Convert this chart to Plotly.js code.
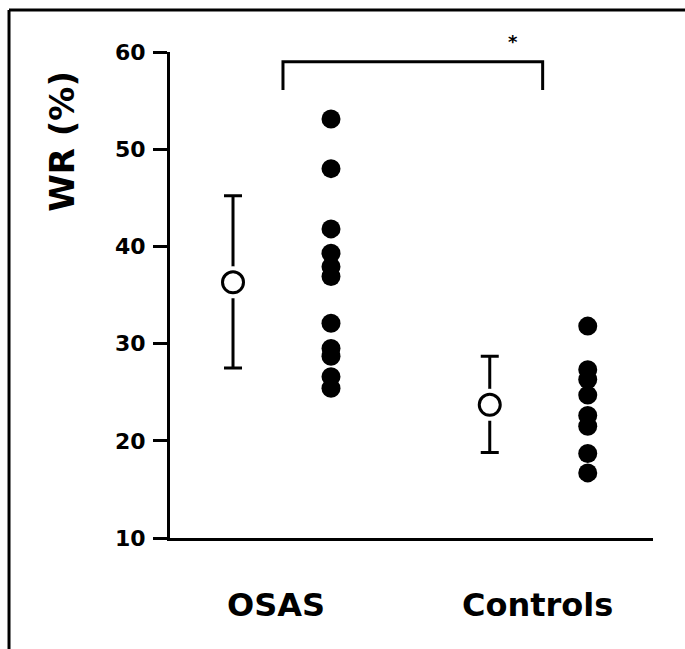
<!DOCTYPE html>
<html>
<head>
<meta charset="utf-8">
<script src="https://cdn.plot.ly/plotly-3.0.1.min.js"></script>
<style>html,body{margin:0;padding:0;background:#fff;}#chart{width:685px;height:649px;}</style>
</head>
<body>
<div id="chart"></div>
<script>
// ---- data ----
const groups = ["OSAS", "Controls"];
const groupMeanX = [1, 3.62];
const groupDotX = [2, 4.62];
const osasValues = [53.1, 48.0, 41.8, 39.3, 37.9, 36.9, 32.1, 29.5, 28.7, 26.6, 25.4];
const controlValues = [31.8, 27.3, 26.3, 24.7, 22.6, 21.5, 18.7, 16.7];
const meanValues = [36.3, 23.7];
const errPlus = [8.9, 5.0];
const errMinus = [8.8, 4.9];
const yTicks = [10, 20, 30, 40, 50, 60];
const bracketX = [1.51, 1.51, 4.16, 4.16];
const bracketY = [56.1, 59.0, 59.0, 56.1];
const sigMark = "*";
const labelX = [1.44, 4.11];
const yTitle = "WR (%)";

const FONT = "DejaVu Sans";
const BLACK = "#000";

const traces = [];
// error bars
traces.push({
  type: "scatter", mode: "markers", x: groupMeanX, y: meanValues,
  marker: {size: 1, color: "rgba(0,0,0,0)"},
  error_y: {type: "data", symmetric: false, array: errPlus, arrayminus: errMinus,
            color: BLACK, thickness: 3, width: 9},
  hoverinfo: "skip", showlegend: false, cliponaxis: false
});
// white gap around means
traces.push({
  type: "scatter", mode: "markers", x: groupMeanX, y: meanValues,
  marker: {size: 32, color: "#fff", line: {width: 0}},
  hoverinfo: "skip", showlegend: false, cliponaxis: false
});
// open circles
traces.push({
  type: "scatter", mode: "markers", x: groupMeanX, y: meanValues,
  marker: {size: 21, color: "#fff", symbol: "circle", line: {width: 3, color: BLACK}},
  showlegend: false, cliponaxis: false
});
// individual values
traces.push({
  type: "scatter", mode: "markers",
  x: osasValues.map(() => groupDotX[0]), y: osasValues,
  marker: {size: 19, color: BLACK}, showlegend: false, cliponaxis: false
});
traces.push({
  type: "scatter", mode: "markers",
  x: controlValues.map(() => groupDotX[1]), y: controlValues,
  marker: {size: 19, color: BLACK}, showlegend: false, cliponaxis: false
});
// significance bracket
traces.push({
  type: "scatter", mode: "lines", x: bracketX, y: bracketY,
  line: {color: BLACK, width: 3}, hoverinfo: "skip", showlegend: false, cliponaxis: false
});

const annotations = [];
groups.forEach((g, i) => {
  annotations.push({
    x: labelX[i], xref: "x", y: -0.138, yref: "paper", text: g, showarrow: false,
    font: {family: FONT, size: 32, color: BLACK, weight: "bold"}, xanchor: "center", yanchor: "middle"
  });
});
annotations.push({
  x: -0.224, xref: "paper", y: 50.85, yref: "y", text: yTitle, textangle: -90, showarrow: false,
  font: {family: FONT, size: 34, color: BLACK, weight: "bold"}, xanchor: "center", yanchor: "middle"
});
annotations.push({
  x: 0.710, xref: "paper", y: 1.022, yref: "paper", text: sigMark, showarrow: false,
  font: {family: FONT, size: 18, color: BLACK, weight: "bold"}, xanchor: "center", yanchor: "middle"
});

const layout = {
  width: 685, height: 649,
  margin: {l: 170, r: 32, t: 52, b: 111},
  paper_bgcolor: "#fff", plot_bgcolor: "#fff",
  showlegend: false,
  xaxis: {range: [0.357, 5.286], showgrid: false, zeroline: false, showline: true,
          linecolor: BLACK, linewidth: 3, showticklabels: false, ticks: "", fixedrange: true},
  yaxis: {range: [10, 60], tickvals: yTicks, ticktext: yTicks.map(String),
          showgrid: false, zeroline: false, showline: true, linecolor: BLACK, linewidth: 3,
          ticks: "outside", ticklen: 14, tickwidth: 3, tickcolor: BLACK, ticklabelstandoff: 3,
          tickfont: {family: FONT, size: 22, color: BLACK, weight: "bold"}, fixedrange: true},
  annotations: annotations,
  shapes: [
    {type: "line", xref: "paper", yref: "paper", x0: -0.3333, x1: 1.07, y0: 1.0864, y1: 1.0864,
     line: {color: BLACK, width: 3}},
    {type: "line", xref: "paper", yref: "paper", x0: -0.3333, x1: -0.3333, y0: 1.0864, y1: -0.24,
     line: {color: BLACK, width: 3}}
  ]
};

Plotly.newPlot("chart", traces, layout, {displayModeBar: false, staticPlot: true});
</script>
</body>
</html>
